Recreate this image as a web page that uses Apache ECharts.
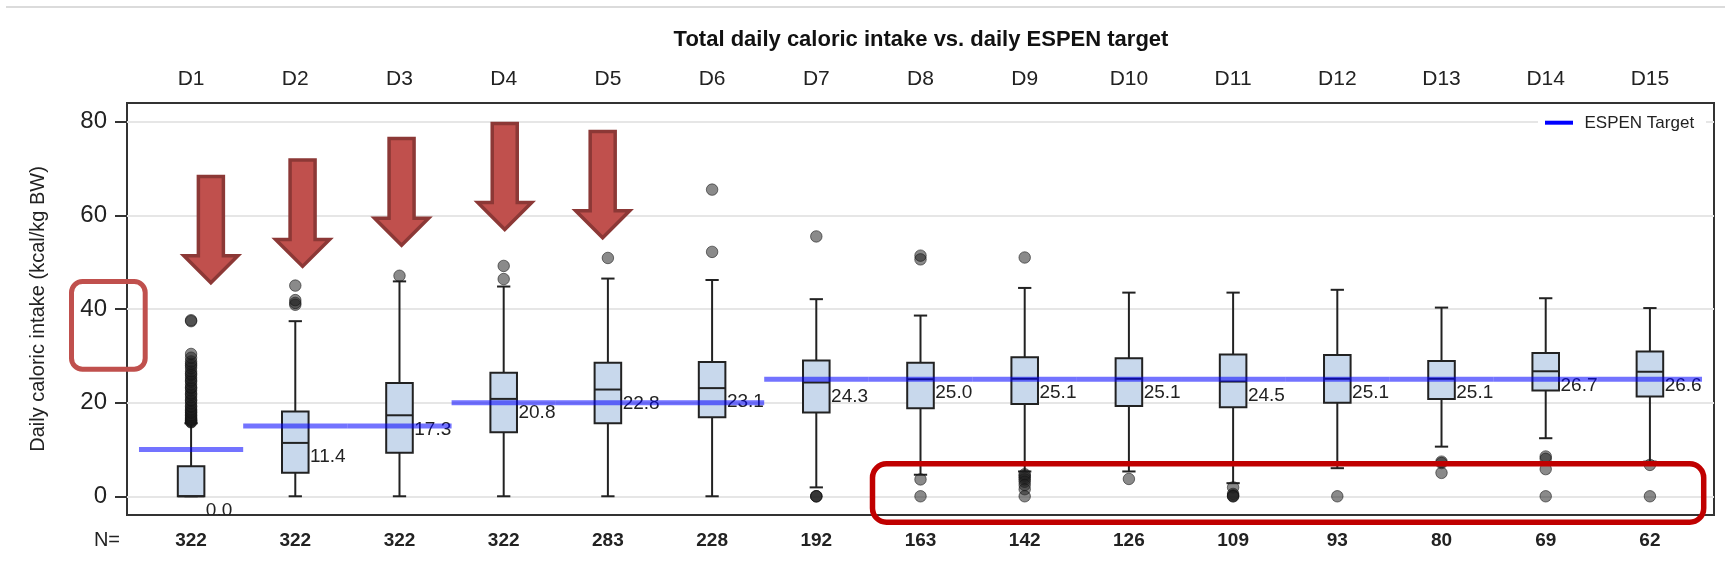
<!DOCTYPE html>
<html>
<head>
<meta charset="utf-8">
<script src="https://cdn.jsdelivr.net/npm/echarts@6/dist/echarts.min.js"></script>
<style>
  html, body { margin: 0; padding: 0; background: #fff; }
  #chart { width: 1725px; height: 578px; }
</style>
</head>
<body>
<div id="chart"></div>
<script>
// ---- Data ----
const days = ['D1','D2','D3','D4','D5','D6','D7','D8','D9','D10','D11','D12','D13','D14','D15'];
const counts = [322, 322, 322, 322, 283, 228, 192, 163, 142, 126, 109, 93, 80, 69, 62];

// Box-plot summary per day (kcal/kg BW)
const whiskerLow  = [0, 0, 0, 0, 0, 0, 1.9, 4.6, 5.3, 5.3, 2.8, 6.0, 10.6, 12.4, 7.4];
const q1          = [0, 5.0, 9.3, 13.7, 15.6, 16.9, 17.9, 18.8, 19.7, 19.3, 19.0, 20.0, 20.8, 22.6, 21.3];
const medians     = [0.0, 11.4, 17.3, 20.8, 22.8, 23.1, 24.3, 25.0, 25.1, 25.1, 24.5, 25.1, 25.1, 26.7, 26.6];
const q3          = [6.4, 18.1, 24.2, 26.4, 28.5, 28.7, 29.0, 28.5, 29.7, 29.5, 30.3, 30.2, 28.9, 30.6, 30.9];
const whiskerHigh = [15.6, 37.4, 45.9, 44.8, 46.5, 46.2, 42.1, 38.6, 44.5, 43.5, 43.5, 44.1, 40.3, 42.3, 40.2];

// Outlying patients per day
const outliers = [
  [15.8, 15.9, 16.1, 16.2, 16.4, 16.6, 16.9, 17.2, 17.4, 17.8, 18.0, 18.3, 18.6, 19.1, 19.3, 19.9, 20.4, 20.6,
   21.2, 21.7, 22.0, 22.6, 23.1, 23.3, 23.9, 24.5, 24.8, 25.3, 25.9, 26.2, 26.7, 27.4, 27.9, 28.3, 28.8,
   29.6, 30.4, 37.4, 37.6],
  [40.9, 41.3, 41.9, 45.0],
  [47.1],
  [46.4, 49.2],
  [50.9],
  [52.2, 65.5],
  [0, 0, 0, 55.5],
  [3.6, 0, 50.6, 51.4],
  [4.7, 4.4, 4.0, 3.6, 3.1, 2.4, 1.5, 0, 51.0],
  [3.7],
  [1.9, 0.5, 0.2, 0, 0],
  [0],
  [7.4, 7.1, 5.0],
  [8.5, 8.0, 5.8, 0],
  [6.7, 0]
];

// ESPEN daily target (kcal/kg BW)
const targets = [10, 15, 15, 20, 20, 20, 25, 25, 25, 25, 25, 25, 25, 25, 25];

// Y axis tick values
const yTicks = [0, 20, 40, 60, 80];

// Highlight arrows: day position, top value, tip value
const arrowDayPos = [1.19, 2.07, 3.02, 4.01, 4.95];
const arrowTop    = [68.3, 71.8, 76.4, 79.6, 77.9];
const arrowTip    = [45.6, 49.1, 53.6, 57.0, 55.2];

// ---- Chart ----
const FONT = '"Liberation Sans", Arial, Helvetica, sans-serif';
const dayPos = days.map((d, i) => i + 1);

const boxData = days.map((d, i) => [i + 1, whiskerLow[i], q1[i], medians[i], q3[i], whiskerHigh[i]]);
const outlierData = [];
outliers.forEach((list, i) => list.forEach(v => outlierData.push([i + 1, v])));
const targetData = targets.map((t, i) => [i + 1, t]);
const arrowData = arrowDayPos.map((x, i) => [x, arrowTop[i], arrowTip[i]]);

function renderBox(params, api) {
  const x = api.value(0);
  const band = api.size([1, 0])[0];
  const boxW = band * 0.255;
  const capW = boxW * 0.5;
  const pLow = api.coord([x, api.value(1)]);
  const pQ1 = api.coord([x, api.value(2)]);
  const pMed = api.coord([x, api.value(3)]);
  const pQ3 = api.coord([x, api.value(4)]);
  const pHigh = api.coord([x, api.value(5)]);
  const cx = pMed[0];
  const line = { stroke: '#222', lineWidth: 2 };
  return {
    type: 'group',
    children: [
      { type: 'line', shape: { x1: cx, y1: pQ3[1], x2: cx, y2: pHigh[1] }, style: line },
      { type: 'line', shape: { x1: cx, y1: pQ1[1], x2: cx, y2: pLow[1] }, style: line },
      { type: 'line', shape: { x1: cx - capW / 2, y1: pHigh[1], x2: cx + capW / 2, y2: pHigh[1] }, style: line },
      { type: 'line', shape: { x1: cx - capW / 2, y1: pLow[1], x2: cx + capW / 2, y2: pLow[1] }, style: line },
      { type: 'rect', shape: { x: cx - boxW / 2, y: pQ3[1], width: boxW, height: pQ1[1] - pQ3[1] },
        style: { fill: '#c8d8ec', stroke: '#222', lineWidth: 2 } },
      { type: 'line', shape: { x1: cx - boxW / 2, y1: pMed[1], x2: cx + boxW / 2, y2: pMed[1] }, style: line },
      { type: 'text', x: cx + boxW / 2 + 1.5, y: pMed[1] + 14,
        style: { text: api.value(3).toFixed(1), fill: '#222', fontSize: 19, fontFamily: FONT,
                 align: 'left', verticalAlign: 'middle' } }
    ]
  };
}

function renderTarget(params, api) {
  const c = api.coord([api.value(0), api.value(1)]);
  const band = api.size([1, 0])[0];
  return {
    type: 'line',
    shape: { x1: c[0] - band / 2, y1: c[1], x2: c[0] + band / 2, y2: c[1] },
    style: { stroke: 'rgba(0,0,255,0.55)', lineWidth: 5 }
  };
}

function renderArrow(params, api) {
  const top = api.coord([api.value(0), api.value(1)]);
  const tip = api.coord([api.value(0), api.value(2)]);
  const shaftHalf = 12.5, headHalf = 27, headH = 27;
  const cx = top[0];
  const yb = tip[1] - headH;
  return {
    type: 'polygon',
    shape: { points: [
      [cx - shaftHalf, top[1]], [cx + shaftHalf, top[1]], [cx + shaftHalf, yb], [cx + headHalf, yb],
      [cx, tip[1]], [cx - headHalf, yb], [cx - shaftHalf, yb]
    ] },
    style: { fill: '#c0504d', stroke: '#8c3836', lineWidth: 3.5, lineJoin: 'miter' }
  };
}

const chart = echarts.init(document.getElementById('chart'), null, { renderer: 'canvas' });

const option = {
  animation: false,
  backgroundColor: '#fff',
  title: {
    text: 'Total daily caloric intake vs. daily ESPEN target',
    left: 921, top: 29, textAlign: 'center', padding: 0,
    textStyle: { fontFamily: FONT, fontSize: 22, fontWeight: 'bold', color: '#111' }
  },
  grid: {
    left: 127, right: 11, top: 103, bottom: 63,
    show: true, borderColor: '#333', borderWidth: 2, backgroundColor: 'transparent'
  },
  xAxis: [
    {
      type: 'value', position: 'top', min: 0.385, max: 15.615,
      axisLine: { show: false }, axisTick: { show: false }, splitLine: { show: false },
      axisLabel: {
        customValues: dayPos, formatter: v => days[Math.round(v) - 1],
        margin: 13, fontSize: 21, color: '#222', fontFamily: FONT
      }
    },
    {
      type: 'value', position: 'bottom', min: 0.385, max: 15.615,
      axisLine: { show: false }, axisTick: { show: false }, splitLine: { show: false },
      axisLabel: {
        customValues: dayPos, formatter: v => String(counts[Math.round(v) - 1]),
        margin: 16, fontSize: 19, fontWeight: 'bold', color: '#222', fontFamily: FONT
      }
    }
  ],
  yAxis: {
    type: 'value', min: -4, max: 84,
    name: 'Daily caloric intake (kcal/kg BW)', nameLocation: 'middle', nameRotate: 90, nameGap: 79,
    nameTextStyle: { fontSize: 20, color: '#222', fontFamily: FONT },
    axisLine: { show: false },
    axisTick: { show: true, length: 12, customValues: yTicks, lineStyle: { color: '#333', width: 2 } },
    axisLabel: { customValues: yTicks, fontSize: 24, color: '#222', margin: 20, fontFamily: FONT },
    splitLine: { show: true, lineStyle: { color: '#e6e6e6', width: 2 } }
  },
  graphic: [
    { type: 'line', shape: { x1: 6, y1: 7, x2: 1725, y2: 7 }, style: { stroke: '#cfcfcf', lineWidth: 1.5 } },
    { type: 'text', x: 120, y: 540,
      style: { text: 'N=', fontSize: 20, fontFamily: FONT, fill: '#222', align: 'right', verticalAlign: 'middle' } },
    // legend key for the target line
    { type: 'rect', z: 20, shape: { x: 1538, y: 111, width: 168, height: 24 }, style: { fill: '#ffffff' } },
    { type: 'rect', z: 21, shape: { x: 1545, y: 120.7, width: 28, height: 4 }, style: { fill: '#0000ff' } },
    { type: 'text', z: 21, x: 1584.5, y: 123,
      style: { text: 'ESPEN Target', fontSize: 17, fontFamily: FONT, fill: '#222',
               align: 'left', verticalAlign: 'middle' } },
    { type: 'rect', z: 100, shape: { x: 71.5, y: 281.5, width: 73.7, height: 87.7, r: 11 },
      style: { fill: 'none', stroke: '#c0504d', lineWidth: 5 } },
    { type: 'rect', z: 100, shape: { x: 872.5, y: 463.8, width: 831.2, height: 58.4, r: 14 },
      style: { fill: 'none', stroke: '#c00000', lineWidth: 5.5 } }
  ],
  series: [
    {
      type: 'custom', name: 'box', data: boxData, renderItem: renderBox,
      encode: { x: 0, y: [1, 2, 3, 4, 5] }, z: 3, clip: true, silent: true
    },
    {
      type: 'scatter', name: 'outliers', data: outlierData, symbol: 'circle', symbolSize: 11.5, z: 4,
      silent: true,
      itemStyle: { color: 'rgba(30,30,30,0.65)', borderColor: 'rgba(20,20,20,0.7)', borderWidth: 1 }
    },
    {
      type: 'custom', name: 'ESPEN Target', data: targetData, renderItem: renderTarget,
      encode: { x: 0, y: 1 }, z: 5, silent: true, itemStyle: { color: '#0000ff' }
    },
    {
      type: 'custom', name: 'arrows', data: arrowData, renderItem: renderArrow,
      encode: { x: 0, y: [1, 2] }, z: 6, silent: true
    }
  ]
};

chart.setOption(option);
</script>
</body>
</html>
